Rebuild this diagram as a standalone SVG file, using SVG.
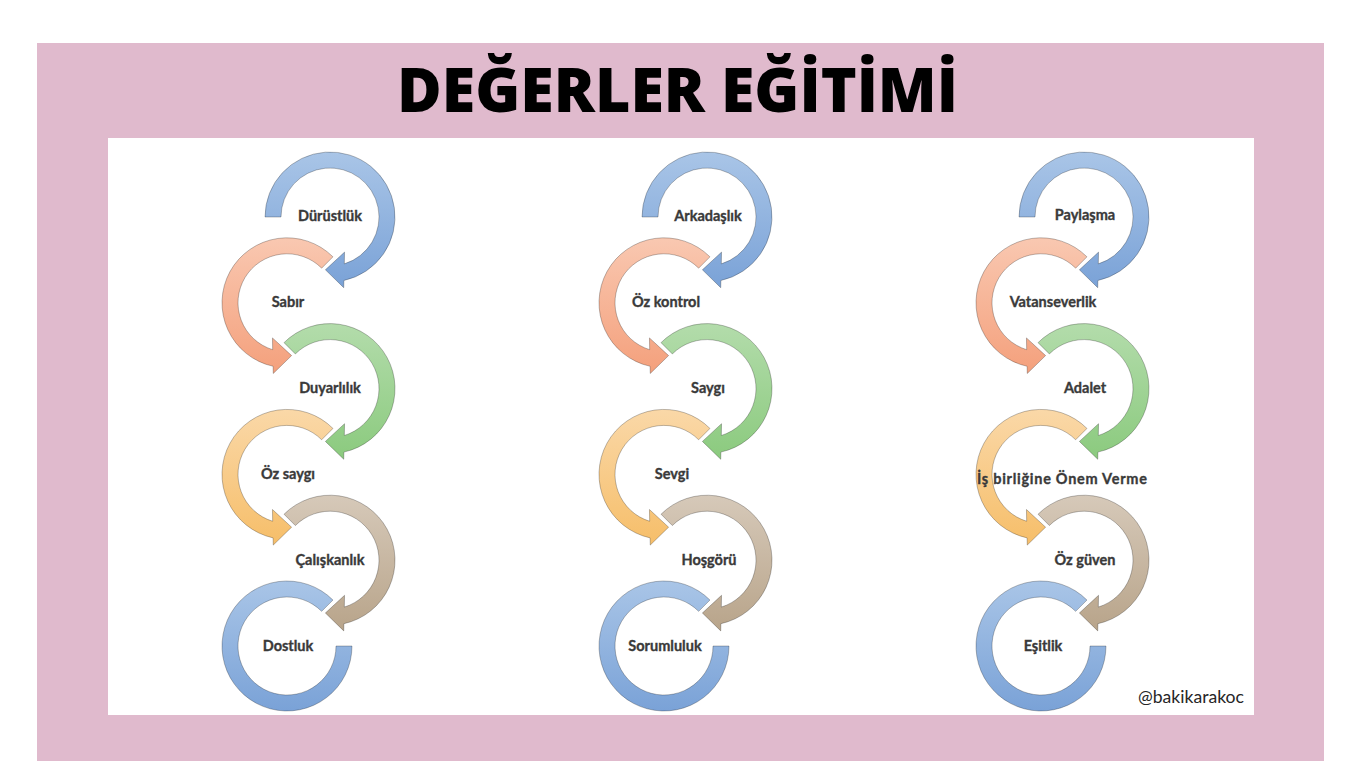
<svg xmlns="http://www.w3.org/2000/svg" xmlns:xlink="http://www.w3.org/1999/xlink" width="1366" height="768" viewBox="0 0 1366 768">
<style>
.t{font-family:Lato,"Noto Sans","Liberation Sans",sans-serif;font-weight:700;font-size:14.5px;fill:#3a3a3a;stroke:#3a3a3a;stroke-width:.35px;text-anchor:middle}
.s{stroke:#000;stroke-opacity:.32;stroke-width:.8}
.title{font-family:"Open Sans","Liberation Sans",sans-serif;font-weight:800;font-size:62px;fill:#000;text-anchor:middle}
.w{font-family:Lato,"Open Sans","Liberation Sans",sans-serif;font-size:16.5px;fill:#262626}
</style>
<defs>
<linearGradient id="gB" x1="0" y1="0" x2="0" y2="1"><stop offset="0" stop-color="#a9c5e7"/><stop offset="1" stop-color="#7aa2d7"/></linearGradient>
<linearGradient id="gS" x1="0" y1="0" x2="0" y2="1"><stop offset="0" stop-color="#f9c8b1"/><stop offset="1" stop-color="#f4a07c"/></linearGradient>
<linearGradient id="gG" x1="0" y1="0" x2="0" y2="1"><stop offset="0" stop-color="#b3dcab"/><stop offset="1" stop-color="#8bca7e"/></linearGradient>
<linearGradient id="gO" x1="0" y1="0" x2="0" y2="1"><stop offset="0" stop-color="#fad8a8"/><stop offset="1" stop-color="#f6be69"/></linearGradient>
<linearGradient id="gT" x1="0" y1="0" x2="0" y2="1"><stop offset="0" stop-color="#d6c9b9"/><stop offset="1" stop-color="#b8a48a"/></linearGradient>
<path id="aR0" d="M -65 0 A 65 65 0 1 1 13.9 63.5 L 13.74 70.68 L -4.6 52.8 L 14.54 35.11 L 14.33 46.86 A 49 49 0 1 0 -49 0 Z"/>
<path id="aR" d="M -45.96 -45.96 A 65 65 0 1 1 13.9 63.5 L 13.74 70.68 L -4.6 52.8 L 14.54 35.11 L 14.33 46.86 A 49 49 0 1 0 -34.65 -34.65 Z"/>
<path id="aL" d="M 45.96 -45.96 A 65 65 0 1 0 -13.9 63.5 L -13.74 70.68 L 4.6 52.8 L -14.54 35.11 L -14.33 46.86 A 49 49 0 1 1 34.65 -34.65 Z"/>
<path id="rL" d="M 45.96 -45.96 A 65 65 0 1 0 65 0 L 49 0 A 49 49 0 1 1 34.65 -34.65 Z"/>
</defs>
<rect x="0" y="0" width="1366" height="768" fill="#fff"/>
<rect x="37" y="43" width="1287" height="718" fill="#e0bacd"/>
<rect x="108" y="138" width="1146" height="577" fill="#fff"/>
<text class="title" x="677.5" y="112" textLength="561" lengthAdjust="spacingAndGlyphs">DEĞERLER EĞİTİMİ</text>

<g id="connectors"></g>

<g id="c1n1"><use xlink:href="#aR0" class="s" fill="url(#gB)" transform="translate(330,217)"/><text class="t" x="330" y="221">Dürüstlük</text></g>
<g id="c1n2"><use xlink:href="#aL" class="s" fill="url(#gS)" transform="translate(287,302.8)"/><text class="t" x="288" y="307">Sabır</text></g>
<g id="c1n3"><use xlink:href="#aR" class="s" fill="url(#gG)" transform="translate(330,388.6)"/><text class="t" x="330" y="393">Duyarlılık</text></g>
<g id="c1n4"><use xlink:href="#aL" class="s" fill="url(#gO)" transform="translate(287,474.4)"/><text class="t" x="288" y="479">Öz saygı</text></g>
<g id="c1n5"><use xlink:href="#aR" class="s" fill="url(#gT)" transform="translate(330,560.2)"/><text class="t" x="330" y="565">Çalışkanlık</text></g>
<g id="c1n6"><use xlink:href="#rL" class="s" fill="url(#gB)" transform="translate(287,646)"/><text class="t" x="288" y="651">Dostluk</text></g>

<g id="c2n1"><use xlink:href="#aR0" class="s" fill="url(#gB)" transform="translate(707,217)"/><text class="t" x="708" y="221">Arkadaşlık</text></g>
<g id="c2n2"><use xlink:href="#aL" class="s" fill="url(#gS)" transform="translate(664,302.8)"/><text class="t" x="666" y="307">Öz kontrol</text></g>
<g id="c2n3"><use xlink:href="#aR" class="s" fill="url(#gG)" transform="translate(707,388.6)"/><text class="t" x="708" y="393">Saygı</text></g>
<g id="c2n4"><use xlink:href="#aL" class="s" fill="url(#gO)" transform="translate(664,474.4)"/><text class="t" x="672" y="479">Sevgi</text></g>
<g id="c2n5"><use xlink:href="#aR" class="s" fill="url(#gT)" transform="translate(707,560.2)"/><text class="t" x="709" y="565">Hoşgörü</text></g>
<g id="c2n6"><use xlink:href="#rL" class="s" fill="url(#gB)" transform="translate(664,646)"/><text class="t" x="665" y="651">Sorumluluk</text></g>

<g id="c3n1"><use xlink:href="#aR0" class="s" fill="url(#gB)" transform="translate(1084,217)"/><text class="t" x="1085" y="220">Paylaşma</text></g>
<g id="c3n2"><use xlink:href="#aL" class="s" fill="url(#gS)" transform="translate(1041,302.8)"/><text class="t" x="1053" y="307">Vatanseverlik</text></g>
<g id="c3n3"><use xlink:href="#aR" class="s" fill="url(#gG)" transform="translate(1084,388.6)"/><text class="t" x="1085" y="393">Adalet</text></g>
<g id="c3n4"><use xlink:href="#aL" class="s" fill="url(#gO)" transform="translate(1041,474.4)"/><text class="t" x="1062" y="484" textLength="170" lengthAdjust="spacing">İş birliğine Önem Verme</text></g>
<g id="c3n5"><use xlink:href="#aR" class="s" fill="url(#gT)" transform="translate(1084,560.2)"/><text class="t" x="1085" y="565">Öz güven</text></g>
<g id="c3n6"><use xlink:href="#rL" class="s" fill="url(#gB)" transform="translate(1041,646)"/><text class="t" x="1043" y="651">Eşitlik</text></g>

<text class="w" x="1138" y="703" textLength="106" lengthAdjust="spacingAndGlyphs">@bakikarakoc</text>
</svg>
